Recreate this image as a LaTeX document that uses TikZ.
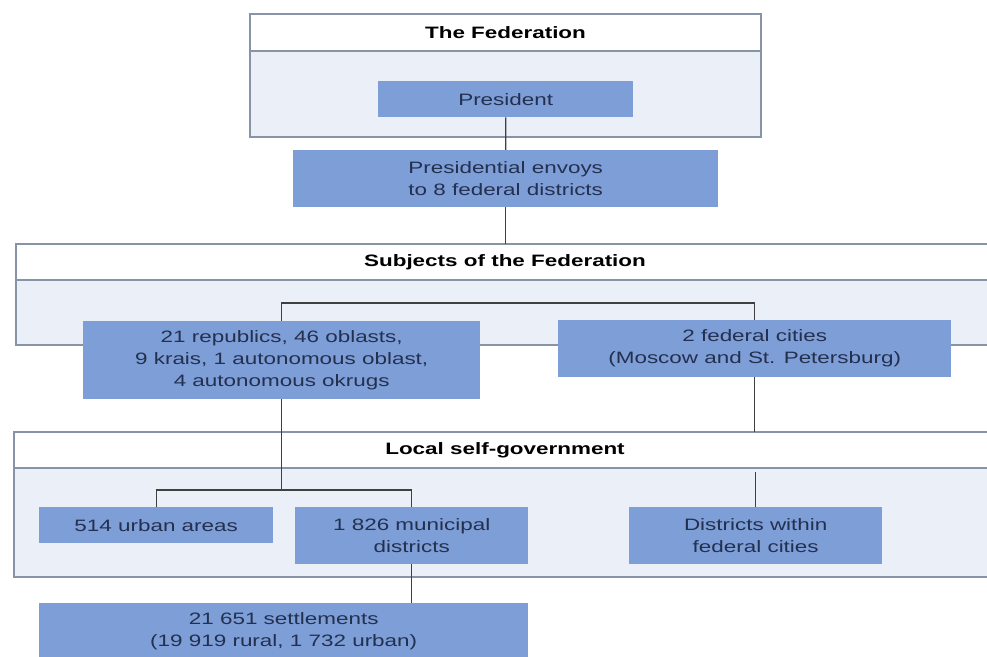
\documentclass[tikz,border=0pt]{standalone}
\usepackage{fontspec}
\setmainfont{Liberation Sans}[FakeStretch=1.36]
\usepackage{tikz}

\definecolor{boxblue}{RGB}{126,158,216}
\definecolor{panelblue}{RGB}{234,239,248}
\definecolor{panelline}{RGB}{135,148,165}
\definecolor{boxtext}{RGB}{35,48,78}

\tikzset{
  orgbox/.style={fill=boxblue,text=boxtext,align=center,inner sep=0pt,anchor=north west},
  panelframe/.style={draw=panelline,line width=1.2bp},
  paneltitle/.style={font=\fontsize{16.5bp}{22bp}\selectfont\bfseries,text=black},
  orglink/.style={draw=black!75,line width=1.3bp}
}

\begin{document}
\begin{tikzpicture}[x=1bp,y=-1bp,font=\fontsize{16.5bp}{22bp}\selectfont]
  \useasboundingbox (0,0) rectangle (987,657);
  % panels
  \draw[panelframe,fill=white] (250,14) rectangle (761,51);
  \draw[panelframe,fill=panelblue] (250,51) rectangle (761,137);
  \draw[panelframe,fill=white] (16,244) rectangle (995,280);
  \draw[panelframe,fill=panelblue] (16,280) rectangle (995,345);
  \draw[panelframe,fill=white] (14,432) rectangle (995,468);
  \draw[panelframe,fill=panelblue] (14,468) rectangle (995,577);
  \node[paneltitle] (fedtitle) at (505.5,32.5) {The Federation};
  \node[paneltitle] (subjtitle) at (505,262) {Subjects of the Federation};
  \node[paneltitle] (localtitle) at (505,450) {Local self-government};
  \coordinate (subjtop) at (0,244);
  \coordinate (subjfork) at (0,303);
  \coordinate (localtop) at (0,432);
  \coordinate (localbar) at (0,472);
  \coordinate (localfork) at (0,490);

  \node[orgbox,minimum width=255bp,minimum height=36bp] (president) at (378,81) {President};
  \node[orgbox,minimum width=425bp,minimum height=57bp] (envoys) at (293,150) {Presidential envoys\\to 8 federal districts};
  \node[orgbox,minimum width=397bp,minimum height=78bp] (republics) at (83,321) {21 republics, 46 oblasts,\\9 krais, 1 autonomous oblast,\\4 autonomous okrugs};
  \node[orgbox,minimum width=393bp,minimum height=57bp] (fedcities) at (558,320) {2 federal cities\\(Moscow and St. Petersburg)};
  \node[orgbox,minimum width=234bp,minimum height=36bp] (urban) at (39,507) {514 urban areas};
  \node[orgbox,minimum width=233bp,minimum height=57bp] (municipal) at (295,507) {1 826 municipal\\districts};
  \node[orgbox,minimum width=253bp,minimum height=57bp] (districts) at (629,507) {Districts within\\federal cities};
  \node[orgbox,minimum width=489bp,minimum height=57bp] (settlements) at (39,603) {21 651 settlements\\(19 919 rural, 1 732 urban)};

  \draw[orglink] (president.south) -- (envoys.north);
  \draw[orglink] (envoys.south) -- (envoys.south |- subjtop);
  \draw[orglink] (republics.north) -- (republics.north |- subjfork) -- (fedcities.north |- subjfork) -- (fedcities.north);
  \draw[orglink] (republics.south) -- (republics.south |- localfork);
  \draw[orglink] (urban.north) -- (urban.north |- localfork) -- (municipal.north |- localfork) -- (municipal.north);
  \draw[orglink] (fedcities.south) -- (fedcities.south |- localtop);
  \draw[orglink] (districts.north |- localbar) -- (districts.north);
  \draw[orglink] (municipal.south) -- (municipal.south |- settlements.north);
\end{tikzpicture}
\end{document}
